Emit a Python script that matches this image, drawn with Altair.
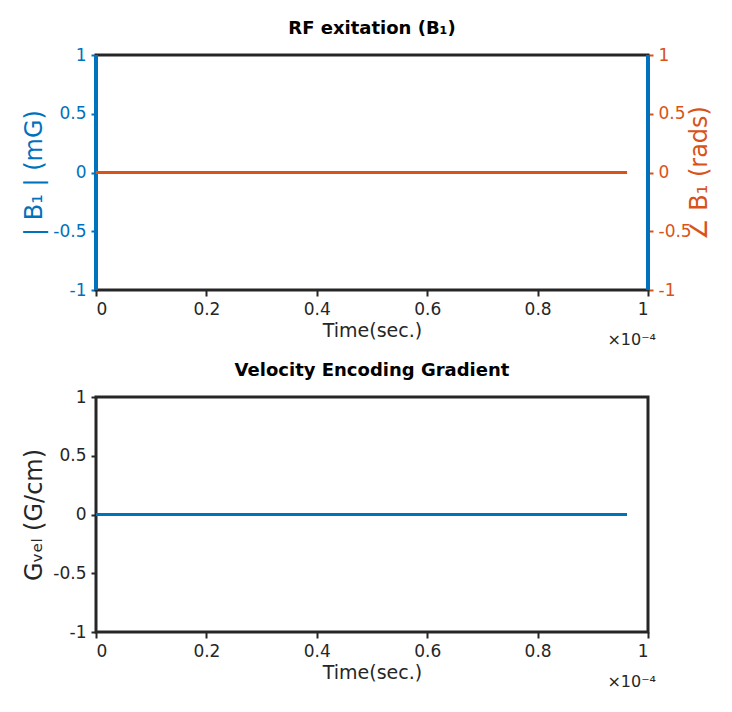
import altair as alt
import pandas as pd

# dados (tempo em unidades de 1e-4 s)
tempo = [0.0, 0.962]
b1_mag = [0.0, 0.0]
b1_fase = [0.0, 0.0]
g_vel = [0.0, 0.0]
x_ticks = [0, 0.2, 0.4, 0.6, 0.8, 1]
y_ticks = [-1, -0.5, 0, 0.5, 1]

AZUL = '#0072BD'
LARANJA = '#D95319'
PRETO = '#262626'
W, H = 552, 235

df = pd.DataFrame({'t': tempo, 'mag': b1_mag, 'fase': b1_fase, 'g': g_vel})
um = pd.DataFrame({'a': [0]})

ROTULO = "replace(format(datum.value, '~g'), '\u2212', '-')"

eixo_x = alt.X('t:Q', scale=alt.Scale(domain=[0, 1], nice=False),
               axis=alt.Axis(values=x_ticks, title='Time(sec.)', labelExpr=ROTULO,
                             tickSize=6, domain=False, grid=False, titlePadding=4))


def eixo_y(cor, titulo, orient='left', pad=6):
    return alt.Axis(values=y_ticks, title=titulo, orient=orient, labelColor=cor, titleColor=cor,
                    tickColor=cor, domain=False, grid=False, titleFontSize=24, titleAngle=270,
                    titlePadding=pad, labelExpr=ROTULO)


def moldura():
    borda = alt.Chart(um).mark_rect(filled=False, stroke=PRETO, strokeWidth=3).encode(
        x=alt.value(0), x2=alt.value(W), y=alt.value(0), y2=alt.value(H))
    expo = alt.Chart(um).mark_text(align='right', baseline='top', fontSize=16, color=PRETO).encode(
        x=alt.value(W + 8), y=alt.value(H + 42), text=alt.value('×10⁻⁴'))
    return borda, expo


ysc = alt.Scale(domain=[-1, 1], nice=False)

# painel superior
mag = alt.Chart(df).mark_line(color=AZUL, strokeWidth=3).encode(
    x=eixo_x, y=alt.Y('mag:Q', scale=ysc, axis=eixo_y(AZUL, '| B₁ | (mG)')))
fase = alt.Chart(df).mark_line(color=LARANJA, strokeWidth=3).encode(
    x=eixo_x, y=alt.Y('fase:Q', scale=ysc, axis=eixo_y(LARANJA, '∠ B₁ (rads)', 'right', 20)))
b1, e1 = moldura()
lado_e = alt.Chart(um).mark_rule(color=AZUL, strokeWidth=4).encode(
    x=alt.value(0), y=alt.value(0), y2=alt.value(H))
lado_d = alt.Chart(um).mark_rule(color=AZUL, strokeWidth=4).encode(
    x=alt.value(W), y=alt.value(0), y2=alt.value(H))
topo = alt.layer(b1, lado_e, lado_d, mag, fase, e1).resolve_scale(y='independent').properties(
    width=W, height=H, title=alt.TitleParams('RF exitation (B₁)', fontSize=18, fontWeight='bold', color='black'))

# painel inferior
gr = alt.Chart(df).mark_line(color=AZUL, strokeWidth=3).encode(
    x=eixo_x, y=alt.Y('g:Q', scale=ysc, axis=eixo_y(PRETO, 'Gᵥₑₗ (G/cm)')))
b2, e2 = moldura()
baixo = alt.layer(b2, gr, e2).properties(
    width=W, height=H, title=alt.TitleParams('Velocity Encoding Gradient', fontSize=18, fontWeight='bold', color='black'))

chart = alt.vconcat(topo, baixo, spacing=14).configure_view(stroke=None).configure_axis(
    labelFontSize=17, titleFontSize=19, labelColor=PRETO, titleColor=PRETO, tickColor=PRETO, tickWidth=2,
    labelFont='DejaVu Sans', titleFont='DejaVu Sans', titleFontWeight='normal', labelPadding=5
).configure_title(font='DejaVu Sans', offset=8).configure_text(font='DejaVu Sans').properties(
    padding={'left': 14, 'top': 12, 'right': 0, 'bottom': 0})

chart.save("out.html", embed_options={"renderer": "svg", "actions": False})
